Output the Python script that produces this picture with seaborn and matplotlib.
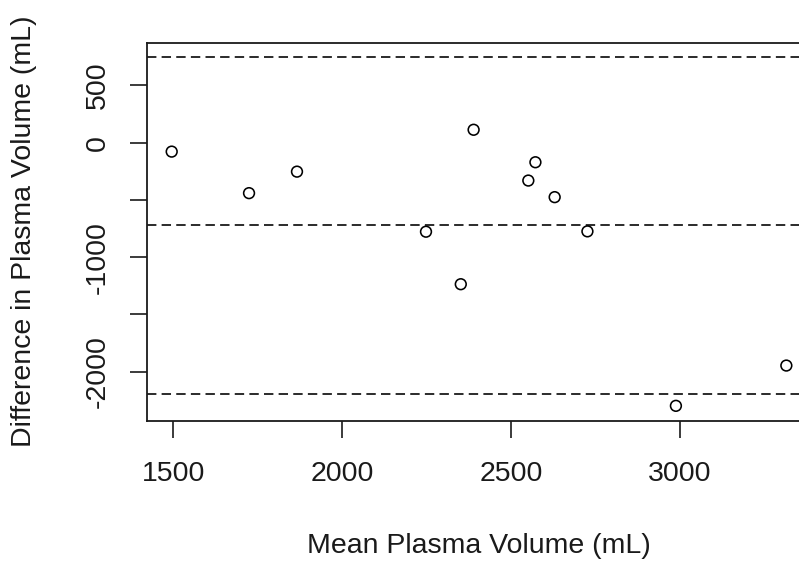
import numpy as np
import pandas as pd
import matplotlib
matplotlib.use("Agg")
import matplotlib.pyplot as plt
import seaborn as sns

# Data (Bland-Altman style plot)
mean_volume = [1495, 1724, 1866, 2389, 2572, 2551, 2629, 2726, 2248, 2351, 2988, 3315]
diff_volume = [-78, -441, -253, 113, -171, -331, -476, -775, -778, -1237, -2300, -1948]
x_ticks = [1500, 2000, 2500, 3000]
x_tick_labels = ["1500", "2000", "2500", "3000"]
y_ticks = [-2000, -1500, -1000, -500, 0, 500]
y_tick_labels = ["-2000", "", "-1000", "", "0", "500"]

df = pd.DataFrame({"mean": mean_volume, "diff": diff_volume})
d_mean = np.mean(diff_volume)
d_sd = np.std(diff_volume, ddof=1)
limits = [d_mean + 1.96 * d_sd, d_mean, d_mean - 1.96 * d_sd]

sns.set_theme(style="white")
plt.rcParams["font.family"] = ["Liberation Sans", "DejaVu Sans"]

W, H = 799, 561
fig = plt.figure(figsize=(W / 100, H / 100), dpi=100)
left, right, top, bottom = 146.7, 811.0, 42.7, 420.7
ax = fig.add_axes([left / W, 1 - bottom / H, (right - left) / W, (bottom - top) / H])

sns.scatterplot(data=df, x="mean", y="diff", ax=ax, marker="o", s=60,
                facecolor="none", edgecolor="black", linewidth=1.15, zorder=3)

for v in limits:
    ax.axhline(v, color="#1a1a1a", linewidth=1.3,
               linestyle=(0, (5.2, 2.9)), dash_capstyle="butt", zorder=2)

ax.set_xlim(1421, 3388)
ax.set_ylim(-2430, 874)

ax.set_xticks(x_ticks)
ax.set_xticklabels(x_tick_labels)
ax.set_yticks(y_ticks)
ax.set_yticklabels(y_tick_labels, rotation=90, va="center")

ax.tick_params(axis="both", direction="out", length=12.2, width=1.2,
               color="#1a1a1a", labelsize=20.5, labelcolor="#1a1a1a")
ax.tick_params(axis="x", pad=17, bottom=True)
ax.tick_params(axis="y", pad=13.5, left=True)

for side in ["left", "top", "bottom"]:
    ax.spines[side].set_visible(True)
    ax.spines[side].set_color("#1a1a1a")
    ax.spines[side].set_linewidth(1.3)
ax.spines["right"].set_visible(False)

ax.set_xlabel("Mean Plasma Volume (mL)", fontsize=20.5, color="#1a1a1a")
ax.set_ylabel("Difference in Plasma Volume (mL)", fontsize=20.5, color="#1a1a1a")
ax.xaxis.label.set_va("center")
ax.yaxis.label.set_va("center")
ax.xaxis.set_label_coords((478.8 - left) / (right - left), (bottom - 546) / (bottom - top))
ax.yaxis.set_label_coords((24 - left) / (right - left), 0.5)

fig.savefig("out.png", dpi=100)
